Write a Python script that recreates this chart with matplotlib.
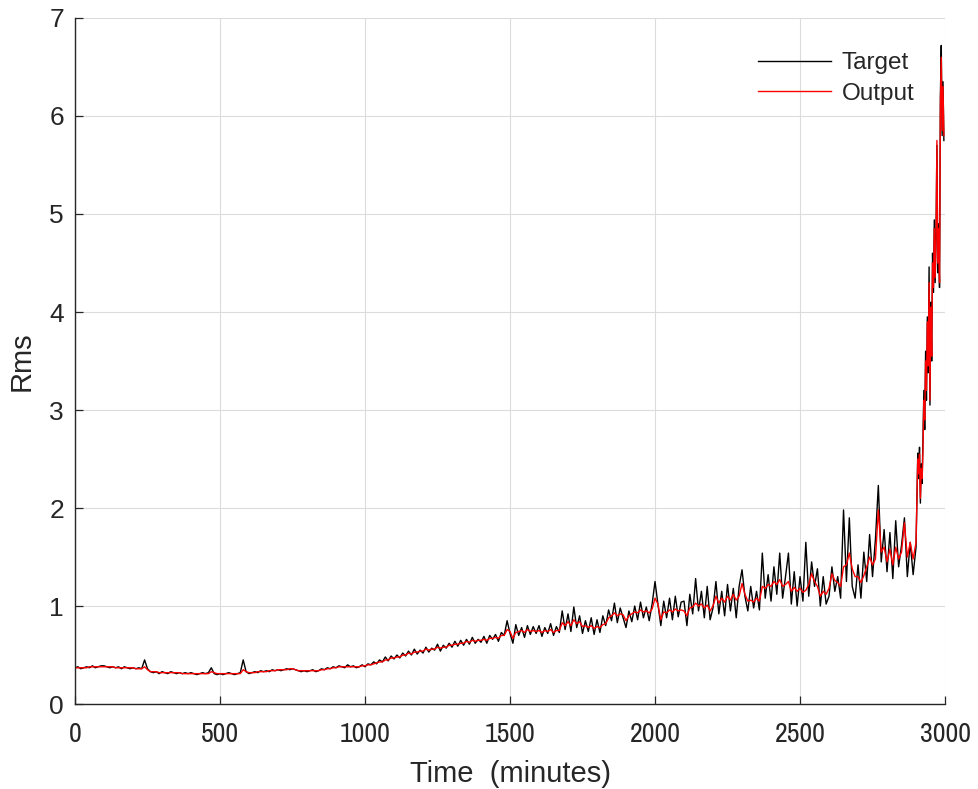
import numpy as np
import matplotlib
matplotlib.use('Agg')
import matplotlib.pyplot as plt
from matplotlib import font_manager

# sampling times (minutes): 10-min grid, then a finer grid for the final run-up
time_main = np.arange(0, 2900, 10)
time_tail = np.arange(2900, 2999, 3)
time = np.concatenate([time_main, time_tail])

target_main = [
    0.37, 0.38, 0.36, 0.37, 0.38, 0.37, 0.39, 0.37, 0.38, 0.39,
    0.39, 0.38, 0.37, 0.38, 0.37, 0.38, 0.36, 0.38, 0.37, 0.36,
    0.37, 0.36, 0.37, 0.36, 0.45, 0.36, 0.33, 0.32, 0.33, 0.31,
    0.33, 0.32, 0.31, 0.33, 0.32, 0.31, 0.32, 0.31, 0.32, 0.31,
    0.32, 0.31, 0.30, 0.31, 0.32, 0.31, 0.32, 0.37, 0.31, 0.30,
    0.31, 0.30, 0.31, 0.32, 0.31, 0.30, 0.31, 0.32, 0.45, 0.33,
    0.31, 0.32, 0.33, 0.32, 0.34, 0.33, 0.34, 0.33, 0.35, 0.34,
    0.35, 0.34, 0.35, 0.36, 0.35, 0.36, 0.35, 0.34, 0.33, 0.34,
    0.33, 0.34, 0.35, 0.33, 0.34, 0.36, 0.35, 0.37, 0.36, 0.38,
    0.37, 0.39, 0.38, 0.37, 0.40, 0.38, 0.39, 0.37, 0.38, 0.40,
    0.38, 0.41, 0.40, 0.43, 0.41, 0.45, 0.43, 0.48, 0.44, 0.49,
    0.46, 0.50, 0.47, 0.52, 0.49, 0.54, 0.50, 0.56, 0.51, 0.55,
    0.52, 0.58, 0.53, 0.57, 0.55, 0.61, 0.54, 0.60, 0.57, 0.62,
    0.58, 0.64, 0.59, 0.65, 0.60, 0.66, 0.61, 0.68, 0.62, 0.66,
    0.63, 0.69, 0.62, 0.70, 0.66, 0.71, 0.64, 0.73, 0.70, 0.85,
    0.72, 0.62, 0.81, 0.70, 0.78, 0.68, 0.80, 0.71, 0.79, 0.72,
    0.80, 0.69, 0.78, 0.72, 0.82, 0.70, 0.79, 0.73, 0.95, 0.76,
    0.92, 0.74, 0.99, 0.78, 0.90, 0.72, 0.85, 0.74, 0.88, 0.71,
    0.86, 0.73, 0.90, 0.80, 0.96, 0.85, 1.03, 0.83, 0.98, 0.88,
    0.78, 0.95, 0.84, 1.00, 0.86, 1.04, 0.88, 0.99, 0.85, 1.02,
    1.25, 1.02, 0.80, 1.05, 0.88, 1.08, 0.86, 1.10, 0.89, 1.04,
    1.05, 0.80, 1.12, 0.92, 1.28, 0.95, 1.15, 0.88, 1.20, 0.86,
    0.98, 1.25, 0.92, 1.15, 0.90, 1.22, 0.95, 1.18, 0.88, 1.20,
    1.37, 1.10, 0.95, 1.20, 0.98, 1.15, 0.96, 1.54, 1.08, 1.32,
    1.05, 1.40, 1.12, 1.54, 1.08, 1.30, 1.54, 1.02, 1.35, 1.00,
    1.30, 1.05, 1.65, 1.10, 1.45, 1.20, 1.38, 1.00, 1.30, 1.02,
    1.10, 1.40, 1.15, 1.30, 1.08, 1.98, 1.25, 1.90, 1.20, 1.08,
    1.42, 1.08, 1.55, 1.25, 1.73, 1.30, 1.68, 2.23, 1.45, 1.78,
    1.35, 1.75, 1.28, 1.87, 1.40, 1.62, 1.90, 1.30, 1.65, 1.32,
]
target_tail = [
    1.60, 2.10, 2.56, 2.30, 2.62, 2.05, 2.45, 2.25, 2.70, 3.20, 2.80,
    3.60, 3.10, 3.95, 3.38, 4.46, 3.05, 4.10, 3.50, 4.60, 4.20, 4.94,
    4.30, 4.80, 5.70, 4.40, 4.90, 4.25, 6.20, 6.72, 5.80, 6.35, 5.75,
]

output_main = [
    0.37, 0.37, 0.37, 0.37, 0.37, 0.38, 0.38, 0.38, 0.38, 0.38,
    0.38, 0.38, 0.38, 0.38, 0.37, 0.37, 0.37, 0.37, 0.37, 0.37,
    0.37, 0.36, 0.36, 0.36, 0.38, 0.35, 0.33, 0.33, 0.33, 0.32,
    0.32, 0.32, 0.32, 0.32, 0.32, 0.32, 0.32, 0.31, 0.31, 0.31,
    0.31, 0.31, 0.31, 0.31, 0.31, 0.31, 0.31, 0.33, 0.32, 0.31,
    0.31, 0.31, 0.31, 0.31, 0.31, 0.31, 0.31, 0.31, 0.35, 0.33,
    0.32, 0.32, 0.32, 0.33, 0.33, 0.33, 0.33, 0.34, 0.34, 0.34,
    0.35, 0.35, 0.35, 0.35, 0.36, 0.36, 0.35, 0.34, 0.34, 0.34,
    0.34, 0.34, 0.34, 0.34, 0.34, 0.35, 0.35, 0.36, 0.36, 0.37,
    0.37, 0.38, 0.38, 0.38, 0.38, 0.38, 0.38, 0.38, 0.38, 0.39,
    0.39, 0.40, 0.40, 0.41, 0.42, 0.43, 0.43, 0.45, 0.45, 0.47,
    0.47, 0.48, 0.48, 0.50, 0.50, 0.52, 0.51, 0.53, 0.53, 0.54,
    0.54, 0.56, 0.55, 0.56, 0.56, 0.58, 0.57, 0.58, 0.58, 0.60,
    0.60, 0.61, 0.61, 0.62, 0.62, 0.64, 0.63, 0.65, 0.64, 0.65,
    0.65, 0.66, 0.65, 0.67, 0.67, 0.68, 0.67, 0.70, 0.70, 0.76,
    0.74, 0.67, 0.73, 0.74, 0.75, 0.73, 0.76, 0.74, 0.75, 0.74,
    0.75, 0.73, 0.75, 0.74, 0.76, 0.73, 0.75, 0.75, 0.83, 0.80,
    0.84, 0.80, 0.86, 0.82, 0.84, 0.79, 0.80, 0.78, 0.80, 0.77,
    0.79, 0.78, 0.81, 0.82, 0.88, 0.90, 0.93, 0.90, 0.92, 0.91,
    0.85, 0.90, 0.92, 0.94, 0.93, 0.96, 0.94, 0.95, 0.93, 0.97,
    1.08, 1.02, 0.86, 0.94, 0.93, 0.96, 0.94, 0.97, 0.95, 0.96,
    0.95, 0.90, 0.98, 0.99, 1.03, 1.00, 1.02, 0.98, 1.01, 0.95,
    1.00, 1.10, 1.03, 1.08, 1.04, 1.10, 1.06, 1.12, 1.06, 1.10,
    1.23, 1.12, 1.05, 1.06, 1.04, 1.08, 1.05, 1.20, 1.18, 1.22,
    1.20, 1.25, 1.22, 1.27, 1.20, 1.22, 1.25, 1.15, 1.19, 1.15,
    1.18, 1.14, 1.16, 1.22, 1.33, 1.25, 1.20, 1.10, 1.15, 1.12,
    1.18, 1.33, 1.26, 1.24, 1.20, 1.40, 1.42, 1.54, 1.38, 1.30,
    1.30, 1.24, 1.31, 1.40, 1.50, 1.42, 1.48, 1.98, 1.55, 1.60,
    1.45, 1.58, 1.42, 1.60, 1.48, 1.55, 1.85, 1.50, 1.65, 1.48,
]
output_tail = [
    1.65, 2.05, 2.50, 2.35, 2.55, 2.10, 2.40, 2.30, 2.60, 3.10, 2.90,
    3.50, 3.20, 3.90, 3.45, 4.30, 3.10, 4.05, 3.55, 4.50, 4.25, 4.85,
    4.35, 4.75, 5.75, 4.50, 4.85, 4.30, 6.10, 6.60, 5.85, 6.30, 5.80,
]

target = np.array(target_main + target_tail)
output = np.array(output_main + output_tail)

x_ticks = [0, 500, 1000, 1500, 2000, 2500, 3000]
y_ticks = [0, 1, 2, 3, 4, 5, 6, 7]

plt.rcParams['font.family'] = ['Liberation Sans', 'DejaVu Sans']
axis_color = '#262626'

fig = plt.figure(figsize=(9.79, 7.89), dpi=100)
ax = fig.add_axes([0.0766, 0.1077, 0.8887, 0.8695])

ax.plot(time, target, color='black', lw=1.0, label='Target')
ax.plot(time, output, color='red', lw=1.0, label='Output')

ax.set_xlim(0, 3000)
ax.set_ylim(0, 7)
ax.set_xticks(x_ticks)
ax.set_yticks(y_ticks)
ax.grid(True, color='#dcdcdc', lw=0.8)
ax.set_axisbelow(True)

for side in ['top', 'right']:
    ax.spines[side].set_visible(False)
for side in ['left', 'bottom']:
    ax.spines[side].set_color(axis_color)
    ax.spines[side].set_linewidth(1.0)

ax.tick_params(direction='in', length=6, width=0.9, colors=axis_color,
               labelsize=19, pad=8)
ax.tick_params(axis='x', pad=13)

# the x labels in the reference are set in a narrower face
narrow = [f.name for f in font_manager.fontManager.ttflist if 'Narrow' in f.name]
if narrow:
    for lab in ax.get_xticklabels():
        lab.set_family(narrow[0])
        lab.set_fontsize(20)

ax.set_xlabel('Time  (minutes)', fontsize=21, color=axis_color, labelpad=9)
ax.set_ylabel('Rms', fontsize=21, color=axis_color, labelpad=10)

leg = ax.legend(loc='upper right', frameon=False, fontsize=17.5,
                handlelength=3.0, handletextpad=0.45, labelspacing=0.35,
                bbox_to_anchor=(0.99, 0.982))
for t in leg.get_texts():
    t.set_color(axis_color)

fig.savefig('out.png', dpi=100)
